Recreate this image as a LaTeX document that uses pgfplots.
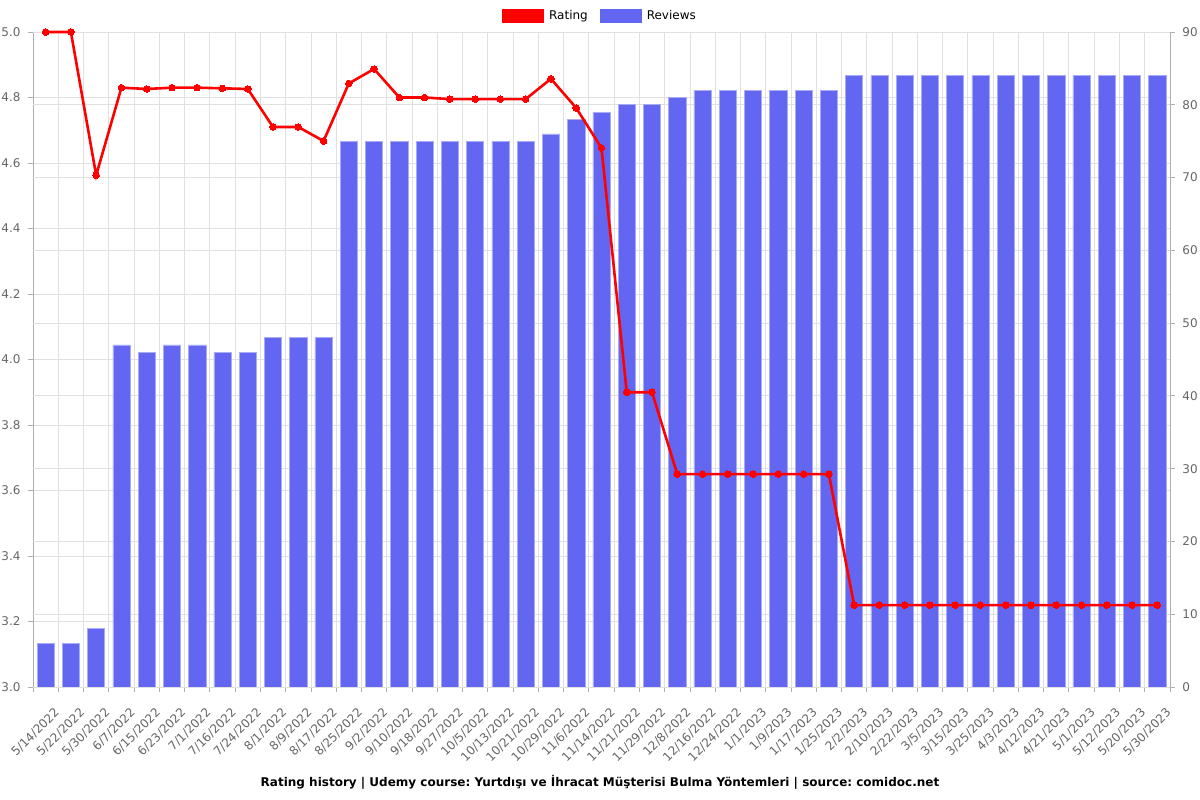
\documentclass[border=0pt]{standalone}
\usepackage{fontspec}
\setmainfont{DejaVu Sans}
\usepackage{pgfplots}
\usepackage{pgfplotstable}
\pgfplotsset{compat=1.18}
\definecolor{barc}{RGB}{99,102,241}
\definecolor{gridc}{RGB}{224,224,224}
\definecolor{tickc}{RGB}{102,102,102}
\definecolor{axc}{RGB}{175,175,175}

\pgfplotstableread{
x rev rat
0 6 5.0
1 6 5.0
2 8 4.5625
3 47 4.830
4 46 4.826
5 47 4.830
6 47 4.830
7 46 4.828
8 46 4.826
9 48 4.710
10 48 4.710
11 48 4.667
12 75 4.843
13 75 4.887
14 75 4.800
15 75 4.800
16 75 4.795
17 75 4.795
18 75 4.795
19 75 4.795
20 76 4.857
21 78 4.768
22 79 4.646
23 80 3.900
24 80 3.900
25 81 3.650
26 82 3.650
27 82 3.650
28 82 3.650
29 82 3.650
30 82 3.650
31 82 3.650
32 84 3.250
33 84 3.250
34 84 3.250
35 84 3.250
36 84 3.250
37 84 3.250
38 84 3.250
39 84 3.250
40 84 3.250
41 84 3.250
42 84 3.250
43 84 3.250
44 84 3.250
}\data

\pgfplotsset{
  base/.style={
    scale only axis, width=1137bp, height=655bp,
    at={(33bp,113bp)}, anchor=south west,
    xmin=-0.5, xmax=44.5,
    tick align=outside,
    major tick length=5bp, minor tick length=5bp,
    tick style={axc, line width=0.8bp},
    axis line style={axc, line width=0.8bp},
    grid style={gridc, line width=0.8bp},
    tick label style={tickc, font=\fontsize{12bp}{14bp}\selectfont},
  }
}

\begin{document}
\frenchspacing
\begin{tikzpicture}
% background axis: grid, left axis, x labels
\begin{axis}[base,
  axis x line*=bottom, axis y line*=left,
  ymin=3, ymax=5,
  ytick={3,3.2,3.4,3.6,3.8,4,4.2,4.4,4.6,4.8,5},
  yticklabels={3.0,3.2,3.4,3.6,3.8,4.0,4.2,4.4,4.6,4.8,5.0},
  ymajorgrids,
  xtick={0,...,44},
  minor xtick={-0.5,0.5,...,44.5},
  xminorgrids,
  minor grid style={gridc, line width=0.8bp},
  major x tick style={draw=none},
  xticklabels={5/14/2022,5/22/2022,5/30/2022,6/7/2022,6/15/2022,6/23/2022,7/1/2022,7/16/2022,7/24/2022,8/1/2022,8/9/2022,8/17/2022,8/25/2022,9/2/2022,9/10/2022,9/18/2022,9/27/2022,10/5/2022,10/13/2022,10/21/2022,10/29/2022,11/6/2022,11/14/2022,11/21/2022,11/29/2022,12/8/2022,12/16/2022,12/24/2022,1/1/2023,1/9/2023,1/17/2023,1/25/2023,2/2/2023,2/10/2023,2/22/2023,3/5/2023,3/15/2023,3/25/2023,4/3/2023,4/12/2023,4/21/2023,5/1/2023,5/12/2023,5/20/2023,5/30/2023},
  xticklabel style={xshift=14bp, yshift=-16bp, rotate=45, anchor=east},
  yticklabel style={xshift=-4bp},
]
\addplot[draw=none, forget plot] coordinates {(0,3)};
\end{axis}
% reviews axis
\begin{axis}[base,
  axis y line*=right, axis x line=none,
  ymin=0, ymax=90, ytick={0,10,20,30,40,50,60,70,80,90},
  yticklabels={0,10,20,30,40,50,60,70,80,90},
  ymajorgrids,
  yticklabel style={xshift=4bp},
]
\addplot[ybar, bar width=0.68, bar shift=0pt, fill=barc, draw=barc!55, line width=0.6bp] table[x=x, y=rev] {\data};
\end{axis}
% rating line
\begin{axis}[base,
  hide axis,
  ymin=3, ymax=5,
  clip=false,
  legend style={at={(axis description cs:0.4987,1.0244)}, anchor=center,
    draw=none, fill=none, legend columns=2,
    font=\fontsize{12bp}{14bp}\selectfont,
    /tikz/every even column/.append style={column sep=10bp},
    /tikz/every odd column/.append style={column sep=0bp}},
  legend image code/.code={\fill[#1] (0bp,-7bp) rectangle (42bp,7bp);},
]
\addlegendimage{fill=red, draw=none}
\addlegendentry{\hspace{3bp}Rating}
\addlegendimage{fill=barc, draw=none}
\addlegendentry{\hspace{3bp}Reviews}
\addplot[red, line width=2.6bp, mark=*, mark size=3.3bp, mark options={fill=red, draw=red, line width=0bp}, forget plot] table[x=x, y=rat] {\data};
\end{axis}
\node[font=\bfseries\fontsize{12bp}{14bp}\selectfont, text=black] at (600bp,18bp) {Rating history | Udemy course: Yurtdışı ve İhracat Müşterisi Bulma Yöntemleri | source: comidoc.net};
\pgfresetboundingbox
\path[use as bounding box] (0,0) rectangle (1200bp,800bp);
\end{tikzpicture}
\end{document}
